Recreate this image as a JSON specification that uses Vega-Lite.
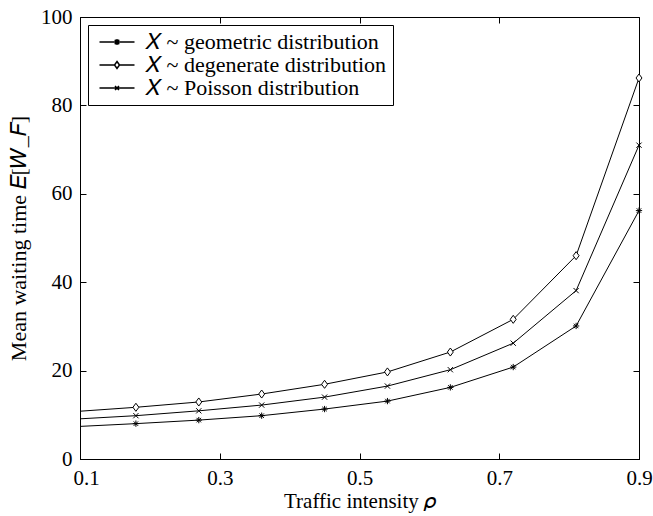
{
  "$schema": "https://vega.github.io/schema/vega-lite/v6.json",
  "autosize": {"type": "none"},
  "padding": {"left": 80, "top": 17, "right": 14, "bottom": 57},
  "width": 559,
  "height": 442,
  "background": "white",
  "config": {
    "view": {"stroke": "black", "strokeWidth": 1},
    "font": "Liberation Serif",
    "axis": {
      "grid": false,
      "domainColor": "black",
      "tickColor": "black",
      "tickSize": -6,
      "labelPadding": 14,
      "labelFont": "Liberation Serif",
      "labelFontSize": 21,
      "labelColor": "black",
      "titleFont": "Liberation Serif",
      "titleFontSize": 21,
      "titleFontWeight": "normal",
      "titleColor": "black"
    }
  },
  "data": {
    "values": [
      {"rho": 0.09, "series": "geometric", "value": 7.3},
      {"rho": 0.18, "series": "geometric", "value": 8.0},
      {"rho": 0.27, "series": "geometric", "value": 8.8},
      {"rho": 0.36, "series": "geometric", "value": 9.8},
      {"rho": 0.45, "series": "geometric", "value": 11.3},
      {"rho": 0.54, "series": "geometric", "value": 13.1},
      {"rho": 0.63, "series": "geometric", "value": 16.2},
      {"rho": 0.72, "series": "geometric", "value": 20.8},
      {"rho": 0.81, "series": "geometric", "value": 30.1},
      {"rho": 0.9, "series": "geometric", "value": 56.2},
      {"rho": 0.09, "series": "degenerate", "value": 10.7},
      {"rho": 0.18, "series": "degenerate", "value": 11.7},
      {"rho": 0.27, "series": "degenerate", "value": 12.9},
      {"rho": 0.36, "series": "degenerate", "value": 14.7},
      {"rho": 0.45, "series": "degenerate", "value": 16.9},
      {"rho": 0.54, "series": "degenerate", "value": 19.7},
      {"rho": 0.63, "series": "degenerate", "value": 24.2},
      {"rho": 0.72, "series": "degenerate", "value": 31.6},
      {"rho": 0.81, "series": "degenerate", "value": 46.0},
      {"rho": 0.9, "series": "degenerate", "value": 86.2},
      {"rho": 0.09, "series": "Poisson", "value": 9.0},
      {"rho": 0.18, "series": "Poisson", "value": 9.8},
      {"rho": 0.27, "series": "Poisson", "value": 10.9},
      {"rho": 0.36, "series": "Poisson", "value": 12.2},
      {"rho": 0.45, "series": "Poisson", "value": 14.0},
      {"rho": 0.54, "series": "Poisson", "value": 16.5},
      {"rho": 0.63, "series": "Poisson", "value": 20.2},
      {"rho": 0.72, "series": "Poisson", "value": 26.2},
      {"rho": 0.81, "series": "Poisson", "value": 38.1},
      {"rho": 0.9, "series": "Poisson", "value": 71.0}
    ]
  },
  "layer": [
    {
      "mark": {"type": "line", "clip": true, "color": "black", "strokeWidth": 1},
      "encoding": {
        "x": {
          "field": "rho", "type": "quantitative",
          "scale": {"domain": [0.1, 0.9], "nice": false, "zero": false},
          "axis": {
            "values": [0.1, 0.3, 0.5, 0.7, 0.9], "format": ".1f",
            "labelFlush": false,
            "labelOffset": {"condition": {"test": "datum.value < 0.15", "value": 6}, "value": 0},
            "title": "Traffic intensity 𝜌", "titlePadding": 2
          }
        },
        "y": {
          "field": "value", "type": "quantitative",
          "scale": {"domain": [0, 100], "nice": false},
          "axis": {"values": [0, 20, 40, 60, 80, 100], "title": "Mean waiting time  𝐸[𝑊_𝐹]", "titleFontSize": 22, "titlePadding": 10}
        },
        "detail": {"field": "series"}
      }
    },
    {
      "transform": [{"filter": "datum.rho >= 0.1"}],
      "mark": {"type": "point", "fill": "white", "stroke": "black", "strokeWidth": 1, "opacity": 1, "size": 49},
      "encoding": {
        "x": {
          "field": "rho", "type": "quantitative",
          "scale": {"domain": [0.1, 0.9], "nice": false, "zero": false},
          "axis": {"orient": "top", "values": [0.1, 0.3, 0.5, 0.7, 0.9], "labels": false, "title": null, "domain": false}
        },
        "y": {
          "field": "value", "type": "quantitative",
          "scale": {"domain": [0, 100], "nice": false},
          "axis": {"orient": "right", "values": [0, 20, 40, 60, 80, 100], "labels": false, "title": null, "domain": false}
        },
        "shape": {
          "field": "series", "type": "nominal",
          "scale": {
            "domain": ["geometric", "degenerate", "Poisson"],
            "range": [
              "M-0.9,0H0.9M0,-0.9V0.9M-0.64,-0.64L0.64,0.64M-0.64,0.64L0.64,-0.64",
              "M0,-1.15L0.85,0L0,1.15L-0.85,0Z",
              "M-0.75,-0.75L0.75,0.75M-0.75,0.75L0.75,-0.75"
            ]
          },
          "legend": null
        }
      }
    },
    {
      "transform": [{"filter": "datum.rho >= 0.1"}],
      "mark": {"type": "point", "fill": "white", "stroke": "black", "strokeWidth": 1, "opacity": 1, "size": 0},
      "encoding": {
        "x": {
          "field": "rho", "type": "quantitative",
          "scale": {"domain": [0.1, 0.9], "nice": false, "zero": false},
          "axis": null
        },
        "y": {
          "field": "value", "type": "quantitative",
          "scale": {"domain": [0, 100], "nice": false},
          "axis": null
        },
        "shape": {
          "field": "series", "type": "nominal",
          "scale": {
            "domain": ["geometric", "degenerate", "Poisson"],
            "range": [
              "M-3.5,0H3.5M0,-0.6V0.6M-0.45,-0.45L0.45,0.45M-0.45,0.45L0.45,-0.45",
              "M-3.5,0H-0.5M0.5,0H3.5M0,-0.7L0.5,0L0,0.7L-0.5,0Z",
              "M-3.5,0H3.5M-0.4,-0.4L0.4,0.4M-0.4,0.4L0.4,-0.4"
            ]
          },
          "legend": {
            "title": null,
            "orient": "top-left",
            "offset": 8,
            "padding": 6,
            "strokeColor": "black",
            "fillColor": "white",
            "labelFont": "Liberation Serif",
            "labelFontSize": 22,
            "labelColor": "black",
            "labelLimit": 0,
            "rowPadding": 1,
            "symbolSize": 100,
            "symbolOffset": 12,
            "labelOffset": 17,
            "labelExpr": "'𝑋 ~ ' + datum.label + ' distribution'"
          }
        }
      }
    }
  ],
  "resolve": {
    "axis": {"x": "independent", "y": "independent"},
    "scale": {"shape": "independent"},
    "legend": {"shape": "independent"}
  }
}
